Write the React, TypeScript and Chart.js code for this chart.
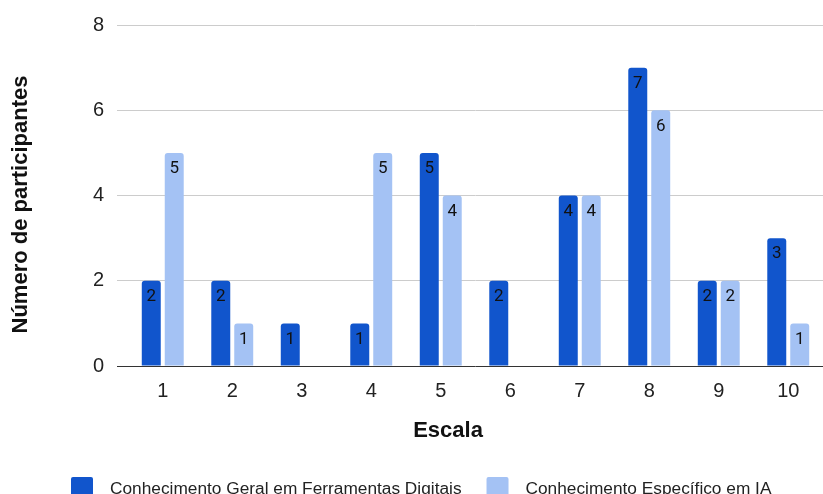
import React, { useEffect, useRef } from "react";
import { Chart, registerables } from "chart.js";

Chart.register(...registerables);

// Escala de 1 a 10 e número de participantes por nível
const categories = ["1", "2", "3", "4", "5", "6", "7", "8", "9", "10"];
const geralValues = [2, 2, 1, 1, 5, 2, 4, 7, 2, 3];
const iaValues = [5, 1, 0, 5, 4, 0, 4, 6, 2, 1];
const seriesNames = [
  "Conhecimento Geral em Ferramentas Digitais",
  "Conhecimento Específico em IA",
];
const seriesColors = ["#1155cc", "#a4c2f4"];
const xTitle = "Escala";
const yTitle = "Número de participantes";
const yMin = 0;
const yMax = 8;
const yStep = 2;

const FONT = "'Liberation Sans', Arial, sans-serif";
const W = 823;
const H = 494;

// Rótulos de valor dentro do topo de cada barra
const valueLabels = {
  id: "valueLabels",
  afterDatasetsDraw(chart: any) {
    const ctx = chart.ctx;
    ctx.save();
    ctx.font = "17px Roboto, sans-serif";
    ctx.fillStyle = "#111";
    ctx.textAlign = "center";
    ctx.textBaseline = "middle";
    chart.data.datasets.forEach((ds: any, di: number) => {
      const meta = chart.getDatasetMeta(di);
      meta.data.forEach((el: any, i: number) => {
        const v = ds.data[i];
        if (!v) return;
        ctx.fillText(String(v), el.x, el.y + 16);
      });
    });
    ctx.restore();
  },
};

// Títulos dos eixos
const axisTitles = {
  id: "axisTitles",
  afterDraw(chart: any) {
    const ctx = chart.ctx;
    ctx.save();
    ctx.fillStyle = "#111";
    ctx.font = `bold 22px ${FONT}`;
    ctx.textAlign = "center";
    ctx.textBaseline = "alphabetic";
    ctx.fillText(xTitle, 448, 437);
    ctx.translate(27, 204.5);
    ctx.rotate(-Math.PI / 2);
    ctx.fillText(yTitle, 0, 0);
    ctx.restore();
  },
};

// Legenda inferior com caixas quadradas
const bottomLegend = {
  id: "bottomLegend",
  afterDraw(chart: any) {
    const ctx = chart.ctx;
    ctx.save();
    ctx.font = `17.3px ${FONT}`;
    const box = 22;
    const gapText = 17;
    const gapItem = 25;
    let x = 71;
    const boxTop = 477;
    chart.data.datasets.forEach((ds: any, i: number) => {
      if (i > 0) x += gapItem;
      ctx.fillStyle = ds.backgroundColor;
      ctx.beginPath();
      (ctx as any).roundRect(x, boxTop, box, box, 2);
      ctx.fill();
      x += box + gapText;
      ctx.fillStyle = "#222";
      ctx.textBaseline = "alphabetic";
      ctx.textAlign = "left";
      ctx.fillText(ds.label, x, 494);
      x += ctx.measureText(ds.label).width;
    });
    ctx.restore();
  },
};

export default function App() {
  const ref = useRef<HTMLCanvasElement>(null);

  useEffect(() => {
    if (!ref.current) return;
    const barStyle = {
      borderRadius: { topLeft: 3, topRight: 3, bottomLeft: 0, bottomRight: 0 },
      borderSkipped: false,
      categoryPercentage: 0.661,
      barPercentage: 0.826,
    };
    const chart = new Chart(ref.current, {
      type: "bar",
      data: {
        labels: categories,
        datasets: [
          { label: seriesNames[0], data: geralValues, backgroundColor: seriesColors[0], ...barStyle },
          { label: seriesNames[1], data: iaValues, backgroundColor: seriesColors[1], ...barStyle },
        ],
      },
      options: {
        responsive: false,
        animation: false,
        events: [],
        layout: { padding: { top: 22, bottom: 48, left: 0, right: 0 } },
        plugins: {
          legend: { display: false },
          tooltip: { enabled: false },
        },
        scales: {
          x: {
            grid: { display: false, drawTicks: false },
            border: { display: false },
            ticks: {
              color: "#222",
              font: { family: FONT, size: 20 },
              padding: 13,
            },
            afterFit(scale: any) {
              scale.height = 80;
            },
          },
          y: {
            min: yMin,
            max: yMax,
            ticks: {
              stepSize: yStep,
              color: "#222",
              font: { family: FONT, size: 20 },
              padding: 13,
            },
            grid: {
              color: (c: any) => (c.tick && c.tick.value === 0 ? "#333" : "#cccccc"),
              tickLength: 11,
              lineWidth: 1,
            },
            border: { display: false },
            afterFit(scale: any) {
              scale.width = 128;
            },
          },
        },
      },
      plugins: [valueLabels, axisTitles, bottomLegend],
    });
    return () => chart.destroy();
  }, []);

  return (
    <div
      style={{
        position: "fixed",
        left: 0,
        top: 0,
        width: W,
        height: H,
        overflow: "hidden",
        background: "#fff",
      }}
    >
      <canvas ref={ref} width={W} height={H} style={{ display: "block" }} />
    </div>
  );
}
